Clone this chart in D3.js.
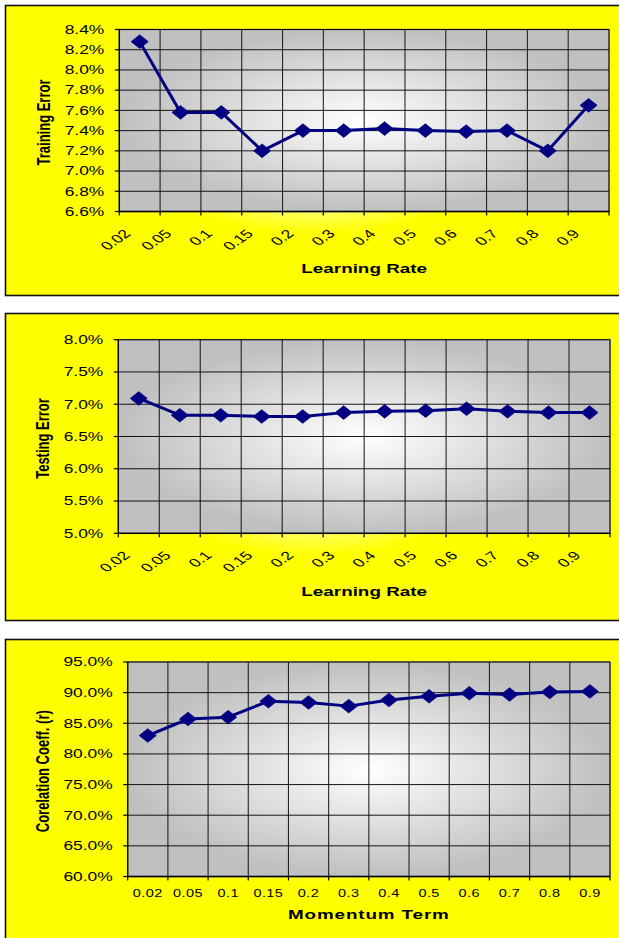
<!DOCTYPE html>
<html>
<head>
<meta charset="utf-8">
<script src="https://cdn.jsdelivr.net/npm/d3@7"></script>
<style>
  body { margin: 0; background: #fff; }
  svg { display: block; }
  text { font-family: "Liberation Sans", Arial, sans-serif; fill: #000; }
</style>
</head>
<body>
<svg id="chart" width="619" height="938"></svg>
<script>
// ---- data ----
const learningRates = ["0.02", "0.05", "0.1", "0.15", "0.2", "0.3", "0.4", "0.5", "0.6", "0.7", "0.8", "0.9"];
const momentumTerms = ["0.02", "0.05", "0.1", "0.15", "0.2", "0.3", "0.4", "0.5", "0.6", "0.7", "0.8", "0.9"];

const trainingError = [8.28, 7.58, 7.58, 7.20, 7.40, 7.40, 7.42, 7.40, 7.39, 7.40, 7.20, 7.65];
const testingError = [7.09, 6.83, 6.83, 6.81, 6.81, 6.87, 6.89, 6.90, 6.93, 6.89, 6.87, 6.87];
const correlationCoeff = [83.0, 85.7, 86.0, 88.6, 88.4, 87.8, 88.8, 89.4, 89.9, 89.7, 90.1, 90.2];

const trainingTicks = [6.6, 6.8, 7.0, 7.2, 7.4, 7.6, 7.8, 8.0, 8.2, 8.4];
const testingTicks = [5.0, 5.5, 6.0, 6.5, 7.0, 7.5, 8.0];
const correlationTicks = [60, 65, 70, 75, 80, 85, 90, 95];

// ---- drawing ----
const SX = 1.45;            // horizontal stretch of the lettering
const NAVY = "#000080";
const svg = d3.select("#chart");
const defs = svg.append("defs");

const chartFill = defs.append("radialGradient").attr("id", "chartFill")
  .attr("cx", "50%").attr("cy", "50%").attr("r", "50%");
chartFill.append("stop").attr("offset", "0").attr("stop-color", "#ffffe8");
chartFill.append("stop").attr("offset", "0.3").attr("stop-color", "#ffffa8");
chartFill.append("stop").attr("offset", "0.58").attr("stop-color", "#ffff00");

const plotFill = defs.append("radialGradient").attr("id", "plotFill")
  .attr("cx", "50%").attr("cy", "50%").attr("r", "62%");
plotFill.append("stop").attr("offset", "0").attr("stop-color", "#ffffff");
plotFill.append("stop").attr("offset", "0.8").attr("stop-color", "#c0c0c0");

const panels = [
  {
    top: 5, height: 290,
    plot: { left: 119.3, right: 609, top: 29.5, bottom: 211.5 },
    categories: learningRates, values: trainingError, ticks: trainingTicks, decimals: 1,
    yTitle: "Training Error", xTitle: "Learning Rate",
    rotated: true, xTitleGap: 61, yTitleX: 50, letter: 0
  },
  {
    top: 313, height: 307,
    plot: { left: 118.3, right: 610, top: 339.7, bottom: 533.3 },
    categories: learningRates, values: testingError, ticks: testingTicks, decimals: 1,
    yTitle: "Testing Error", xTitle: "Learning Rate",
    rotated: true, xTitleGap: 63, yTitleX: 49.3, letter: 0
  },
  {
    top: 639, height: 310,
    plot: { left: 127.7, right: 610, top: 662, bottom: 876.5 },
    categories: momentumTerms, values: correlationCoeff, ticks: correlationTicks, decimals: 1,
    yTitle: "Corelation Coeff. (r)", xTitle: "Momentum Term",
    rotated: false, xTitleGap: 42, yTitleX: 48.5, letter: 0.6
  }
];

function drawPanel(p) {
  const g = svg.append("g");

  // chart area
  g.append("rect")
    .attr("x", 5.5).attr("y", p.top + 0.5)
    .attr("width", 620).attr("height", p.height)
    .attr("fill", "url(#chartFill)")
    .attr("stroke", "#111").attr("stroke-width", 1.6);

  const x = d3.scaleBand().domain(p.categories).range([p.plot.left, p.plot.right]).padding(0);
  const y = d3.scaleLinear().domain(d3.extent(p.ticks)).range([p.plot.bottom, p.plot.top]);

  // plot area
  g.append("rect")
    .attr("x", p.plot.left).attr("y", p.plot.top)
    .attr("width", p.plot.right - p.plot.left).attr("height", p.plot.bottom - p.plot.top)
    .attr("fill", "url(#plotFill)")
    .attr("stroke", "#808080").attr("stroke-width", 1.5);

  // horizontal gridlines
  g.selectAll(null).data(p.ticks).join("line")
    .attr("x1", p.plot.left).attr("x2", p.plot.right)
    .attr("y1", d => y(d)).attr("y2", d => y(d))
    .attr("stroke", "#000").attr("stroke-width", 1).attr("opacity", 0.9);

  // vertical gridlines at category boundaries
  const bounds = p.categories.slice(1).map(c => x(c)).concat([p.plot.right]);
  g.selectAll(null).data(bounds).join("line")
    .attr("x1", d => d).attr("x2", d => d)
    .attr("y1", p.plot.top).attr("y2", p.plot.bottom)
    .attr("stroke", "#111").attr("stroke-width", 1.1).attr("opacity", 0.9);

  // axes
  g.append("line")
    .attr("x1", p.plot.left).attr("x2", p.plot.left)
    .attr("y1", p.plot.top).attr("y2", p.plot.bottom)
    .attr("stroke", "#000").attr("stroke-width", 1.3);
  g.append("line")
    .attr("x1", p.plot.left).attr("x2", p.plot.right)
    .attr("y1", p.plot.bottom).attr("y2", p.plot.bottom)
    .attr("stroke", "#000").attr("stroke-width", 1.3);

  // y ticks
  g.selectAll(null).data(p.ticks).join("line")
    .attr("x1", p.plot.left - 4.5).attr("x2", p.plot.left)
    .attr("y1", d => y(d)).attr("y2", d => y(d))
    .attr("stroke", "#000").attr("stroke-width", 1.2);
  // x ticks
  const xTicks = p.categories.map(c => x(c)).concat([p.plot.right]);
  g.selectAll(null).data(xTicks).join("line")
    .attr("x1", d => d).attr("x2", d => d)
    .attr("y1", p.plot.bottom).attr("y2", p.plot.bottom + 4)
    .attr("stroke", "#000").attr("stroke-width", 1.2);

  // y tick labels
  g.selectAll(null).data(p.ticks).join("text")
    .attr("transform", d => `translate(${p.plot.left - 15},${y(d)}) scale(${SX},1)`)
    .attr("text-anchor", "end").attr("dy", "0.36em")
    .attr("font-size", 12)
    .text(d => d.toFixed(p.decimals) + "%");

  // x tick labels
  const cx = c => x(c) + x.bandwidth() / 2;
  if (p.rotated) {
    g.selectAll(null).data(p.categories).join("text")
      .attr("transform", c => `translate(${cx(c) - 8},${p.plot.bottom + 23}) scale(${SX},1) rotate(-45)`)
      .attr("text-anchor", "end")
      .attr("font-size", 12)
      .text(c => c);
  } else {
    g.selectAll(null).data(p.categories).join("text")
      .attr("transform", c => `translate(${cx(c)},${p.plot.bottom + 20}) scale(${SX},1)`)
      .attr("text-anchor", "middle")
      .attr("font-size", 10)
      .attr("letter-spacing", 0.3)
      .text(c => c);
  }

  // axis titles
  g.append("text")
    .attr("transform", `translate(${(p.plot.left + p.plot.right) / 2},${p.plot.bottom + p.xTitleGap}) scale(${SX},1)`)
    .attr("text-anchor", "middle")
    .attr("font-size", 13).attr("font-weight", "bold")
    .attr("letter-spacing", p.letter)
    .text(p.xTitle);
  g.append("text")
    .attr("transform", `translate(${p.yTitleX},${(p.plot.top + p.plot.bottom) / 2 + 2}) scale(${SX},1) rotate(-90)`)
    .attr("text-anchor", "middle")
    .attr("font-size", 13).attr("font-weight", "bold")
    .text(p.yTitle);

  // series line
  const pts = p.categories.map((c, i) => [cx(c), y(p.values[i])]);
  g.append("path")
    .attr("d", d3.line()(pts))
    .attr("fill", "none").attr("stroke", NAVY)
    .attr("stroke-width", 3).attr("stroke-linejoin", "round");

  // diamond markers
  const hw = 8.5, hh = 6.8;
  g.selectAll(null).data(pts).join("path")
    .attr("d", d => `M${d[0]},${d[1] - hh}L${d[0] + hw},${d[1]}L${d[0]},${d[1] + hh}L${d[0] - hw},${d[1]}Z`)
    .attr("fill", NAVY).attr("stroke", NAVY).attr("stroke-width", 0.8);
}

panels.forEach(drawPanel);
</script>
</body>
</html>
